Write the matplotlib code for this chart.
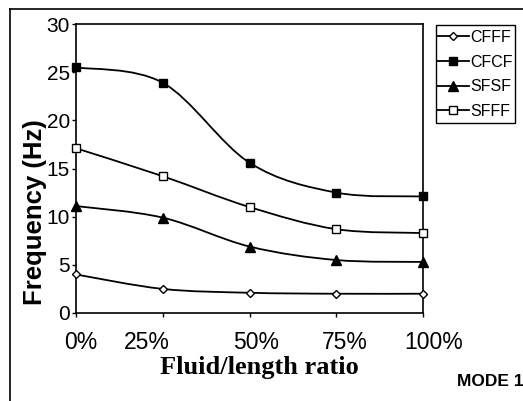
import matplotlib
matplotlib.use("Agg")
import matplotlib.pyplot as plt
import matplotlib.transforms as mtrans
import numpy as np
from matplotlib.path import Path
from matplotlib.patches import PathPatch, Rectangle
from matplotlib.lines import Line2D

categories = ["0%", "25%", "50%", "75%", "100%"]
cfff = [4.0, 2.5, 2.1, 2.0, 2.0]
cfcf = [25.5, 23.9, 15.6, 12.5, 12.1]
sfsf = [11.1, 9.9, 6.9, 5.5, 5.3]
sfff = [17.1, 14.2, 11.0, 8.7, 8.3]
series_names = ["CFFF", "CFCF", "SFSF", "SFFF"]

W, H = 523, 401
fig = plt.figure(figsize=(W / 100, H / 100), dpi=100)
ax = fig.add_axes([76 / W, 1 - 313 / H, (423 - 76) / W, (313 - 24) / H])

x = np.arange(len(categories))


def smooth_path(xs, ys):
    pts = np.column_stack([xs, ys]).astype(float)
    n = len(pts)
    verts = [pts[0]]
    codes = [Path.MOVETO]
    for i in range(n - 1):
        p0 = pts[i - 1] if i > 0 else pts[i]
        p1 = pts[i]
        p2 = pts[i + 1]
        p3 = pts[i + 2] if i + 2 < n else pts[i + 1]
        c1 = p1 + (p2 - p0) / 6.0
        c2 = p2 - (p3 - p1) / 6.0
        verts += [c1, c2, p2]
        codes += [Path.CURVE4] * 3
    return Path(verts, codes)


styles = [
    dict(marker="D", mfc="white", mec="black", ms=4),
    dict(marker="s", mfc="black", mec="black", ms=6),
    dict(marker="^", mfc="black", mec="black", ms=6.5),
    dict(marker="s", mfc="white", mec="black", ms=6),
]
handles = []
for ys, st, name in zip([cfff, cfcf, sfsf, sfff], styles, series_names):
    ax.add_patch(PathPatch(smooth_path(x, ys), fill=False, lw=1.3,
                           edgecolor="black", zorder=2))
    ax.plot(x, ys, linestyle="none", zorder=3, clip_on=False, **st)
    handles.append(Line2D([], [], color="black", lw=1.3, label=name, **st))

ax.set_xlim(0, 4)
ax.set_ylim(0, 30)
ax.set_yticks([0, 5, 10, 15, 20, 25, 30])
ax.set_xticks(x)
ax.set_xticklabels(categories)
for sp in ax.spines.values():
    sp.set_linewidth(1.2)
ax.tick_params(axis="both", length=3, width=1, direction="out", pad=2)
ax.tick_params(axis="y", labelsize=15, pad=1.5)
ax.tick_params(axis="x", labelsize=16.5, pad=10)
for lab in ax.get_xticklabels() + ax.get_yticklabels():
    lab.set_fontfamily("Liberation Sans")

# per-label horizontal shifts (pixels) as seen in the reference
shifts = [5, -16, 7, 9, 11]
for lab, dx in zip(ax.get_xticklabels(), shifts):
    lab.set_transform(lab.get_transform() +
                      mtrans.ScaledTranslation(dx / 100, 0, fig.dpi_scale_trans))

ax.set_xlabel("Fluid/length ratio", fontfamily="Liberation Serif",
              fontweight="bold", fontsize=19)
ax.xaxis.set_label_coords((259 - 76) / 347, (313 - 356) / 289)
ax.xaxis.label.set_va("top")

ax.set_ylabel("Frequency (Hz)", fontfamily="Liberation Sans",
              fontweight="bold", fontsize=18.5)
ax.yaxis.set_label_coords((47 - 76) / 347, (313 - 212) / 289)

leg = fig.legend(handles=handles, loc="upper left",
                 bbox_to_anchor=(437 / W, 1 - 30 / H),
                 prop=dict(family="Liberation Sans", size=11.5),
                 frameon=False,
                 handlelength=2.0, handletextpad=0.1, labelspacing=0.6,
                 borderpad=0.0, borderaxespad=0)
fig.add_artist(Rectangle((436 / W, 1 - 123 / H), (515 - 436) / W, (123 - 25) / H,
                         transform=fig.transFigure, fill=False,
                         edgecolor="black", lw=1.0))

fig.text(457 / W, 1 - 381 / H, "MODE 1", fontfamily="Liberation Sans",
         fontweight="bold", fontsize=12.5, va="center", ha="left")

# outer frame lines
fig.add_artist(Line2D([10 / W, 10 / W], [0, 1 - 9 / H],
                      transform=fig.transFigure, color="black", lw=1.2))
fig.add_artist(Line2D([10 / W, 1], [1 - 9 / H, 1 - 9 / H],
                      transform=fig.transFigure, color="black", lw=1.2))

fig.savefig("out.png", dpi=100)
